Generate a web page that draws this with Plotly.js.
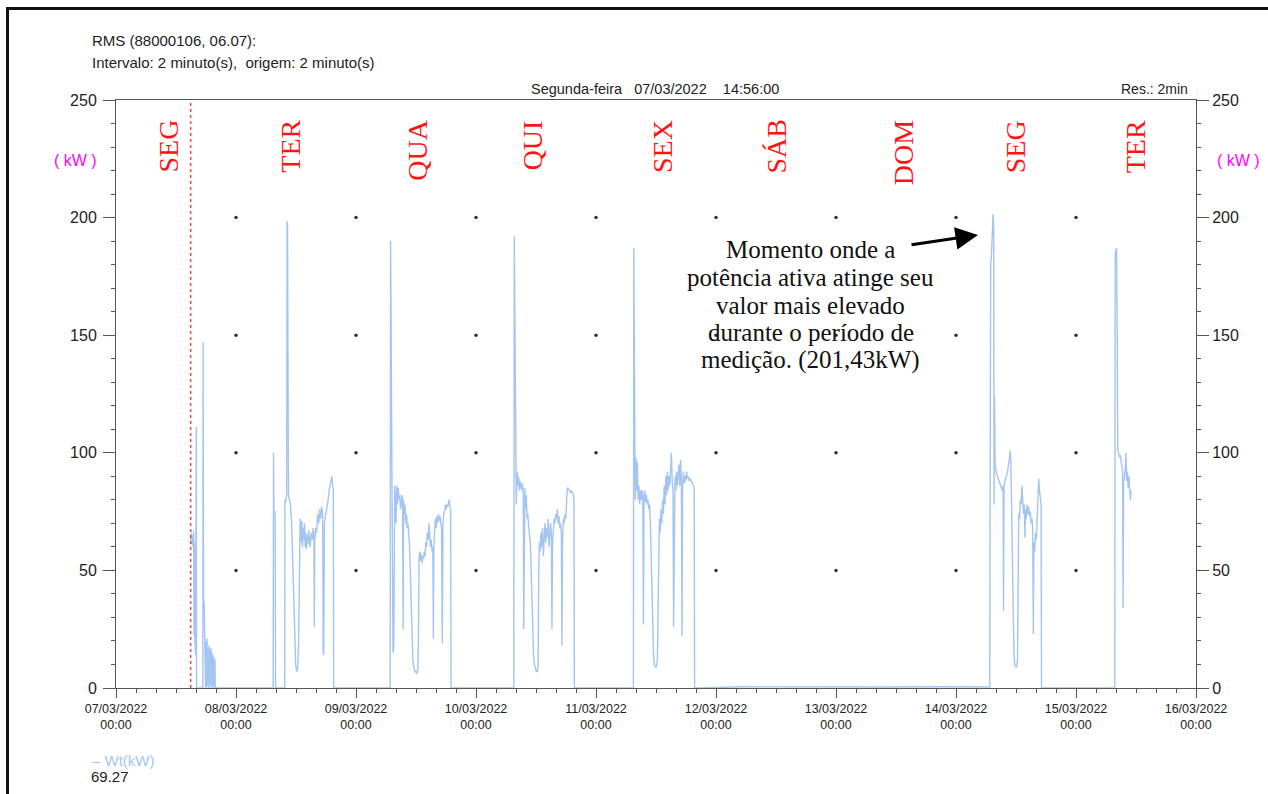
<!DOCTYPE html>
<html>
<head>
<meta charset="utf-8">
<script src="https://cdn.plot.ly/plotly-3.0.1.min.js"></script>
<style>
  html, body { margin: 0; padding: 0; background: #fff; }
  #wrap { position: relative; width: 1268px; height: 794px; overflow: hidden; }
  #chart { width: 1268px; height: 794px; }
  #frame { position: absolute; left: 6px; top: 7px; width: 3000px; height: 3000px;
           border-left: 3px solid #111; border-top: 3px solid #111; pointer-events: none; }
</style>
</head>
<body>
<div id="wrap"><div id="chart"></div><div id="frame"></div></div>
<script>
// ---------------- DATA ----------------
// time = decimal hours since 07/03/2022 00:00, value = active power Wt (kW)
const day1Hours = [14.93,15.05,15.17,15.29,15.41,15.53,15.61,15.69,15.77,15.85,15.93,16.05,16.11,17.37,17.41,17.47,17.51,17.65,17.73,17.81,17.9,18.0,18.1,18.2,18.3,18.4,18.5,18.6,18.7,18.8,18.9,19.0,19.1,19.2,19.3,19.4,19.5,19.6,19.7,19.8,19.85];
const day1Kw    = [63,66,61,65,60,67,22,62,20,18,14,111,0,0,147,2,37,36,22,21,0,20,0,21,1,17,0,18,2,16,0,17,1,15,0,14,1,13,0,12,0];

const day2Hours = [31.42,31.51,31.59,31.83,31.91,33.75,33.79,33.93,34.13,34.23,34.31,34.49,34.73,34.89,35.13,35.33,35.53,35.73,35.93,36.13,36.33,36.53,36.73,36.83,36.93,37.07,37.19,37.31,37.43,37.55,37.69,37.83,37.95,38.09,38.23,38.37,38.51,38.63,38.83,39.03,39.23,39.43,39.59,39.67,39.75,39.93,40.13,40.33,40.53,40.73,40.93,41.13,41.33,41.43,41.55,41.67,41.83,42.03,42.23,42.43,42.63,42.83,43.03,43.17,43.33,43.47,43.53];
const day2Kw    = [0,100,75,75,0,0,80,79,82,198.5,196,82,80,78,70,55,35,18,10,7,8,20,66,72,70,62,71,60,68,63,70,60,66,59,65,61,67,63,60,66,63,68,64,26,62,68,66,74,70,76,72,77,74,15,14,70,72,76,78,80,84,86,88,90,86,84,0];

const day3Hours = [54.84,54.92,55.08,55.24,55.40,55.56,55.74,55.88,56.00,56.14,56.28,56.44,56.60,56.76,56.90,57.04,57.20,57.32,57.42,57.52,57.64,57.80,57.94,58.10,58.24,58.40,58.56,58.72,58.88,59.05,59.21,59.37,59.55,59.75,59.95,60.15,60.35,60.49,60.61,60.75,60.91,61.05,61.21,61.35,61.51,61.65,61.81,61.95,62.11,62.25,62.45,62.61,62.75,62.91,63.05,63.21,63.37,63.47,63.57,63.71,63.85,64.01,64.17,64.33,64.49,64.65,64.81,64.97,65.11,65.27,65.39,65.55,65.71,65.87,66.03,66.19,66.35,66.51,66.67,66.79,66.93,67.01];
const day3Kw    = [0,190,120,40,15,18,86,80,70,86,78,85,80,82,76,78,82,80,25,80,74,78,70,74,68,70,66,60,48,32,20,12,9,7,7,6,8,20,55,58,54,57,53,56,55,58,56,62,60,66,63,70,65,60,63,58,60,21,60,68,72,68,73,70,74,71,73,70,68,19,70,74,75,78,76,78,77,79,80,77,76,0];

const day4Hours = [79.56,79.66,79.78,79.92,80.06,80.22,80.36,80.52,80.66,80.82,80.98,81.14,81.30,81.46,81.54,81.64,81.78,81.92,82.06,82.22,82.38,82.54,82.70,82.87,83.03,83.19,83.35,83.51,83.67,83.87,84.07,84.27,84.43,84.55,84.67,84.83,84.99,85.15,85.31,85.47,85.63,85.79,85.95,86.11,86.27,86.43,86.59,86.75,86.91,87.07,87.19,87.31,87.47,87.63,87.79,87.95,88.11,88.27,88.43,88.59,88.75,88.91,89.07,89.19,89.31,89.47,89.63,89.79,89.95,90.11,90.27,90.47,90.67,90.87,91.07,91.27,91.47,91.59,91.67];
const day4Kw    = [0,192,150,80,78,92,86,90,84,88,86,84,87,82,25,80,85,76,82,72,74,68,66,62,50,35,22,14,10,8,7,7,10,50,62,58,66,60,68,56,64,70,62,68,64,72,60,66,70,66,25,62,68,72,70,74,72,76,70,73,68,70,66,18,62,72,70,74,72,82,85,85,84,83,84,83,82,80,0];

const day5Hours = [103.48,103.56,103.68,103.84,104.00,104.14,104.28,104.44,104.58,104.74,104.88,105.04,105.20,105.36,105.48,105.60,105.76,105.92,106.08,106.24,106.40,106.56,106.72,106.88,107.04,107.20,107.36,107.52,107.68,107.88,108.08,108.28,108.40,108.52,108.68,108.84,109.00,109.16,109.32,109.48,109.64,109.80,109.96,110.12,110.28,110.44,110.60,110.76,110.92,111.08,111.24,111.40,111.52,111.64,111.80,111.96,112.12,112.28,112.44,112.60,112.76,112.92,113.08,113.20,113.32,113.48,113.64,113.80,113.96,114.12,114.28,114.48,114.68,114.88,115.08,115.28,115.48,115.64,115.72];
const day5Kw    = [0,187,140,80,98,84,96,80,86,78,84,80,84,82,27,80,84,79,82,78,80,76,78,70,55,35,20,13,10,9,9,12,30,68,72,66,76,70,80,74,86,78,90,82,92,84,90,86,94,100,88,84,26,82,90,84,92,86,90,95,86,97,88,22,86,92,87,90,88,92,89,90,88,89,88,87,86,85,0];

const weekendHours = [116.5,125,135,145,155,165,174.6];
const weekendKw    = [0,0.5,0.4,0.5,0.4,0.5,0.4];

const day8Hours = [174.74,174.82,174.94,175.10,175.26,175.42,175.54,175.62,175.70,175.82,175.98,176.14,176.30,176.46,176.62,176.78,176.94,177.10,177.26,177.42,177.50,177.60,177.74,177.90,178.06,178.22,178.38,178.54,178.70,178.86,178.98,179.10,179.26,179.42,179.58,179.74,179.94,180.14,180.30,180.42,180.54,180.70,180.86,181.02,181.18,181.34,181.50,181.66,181.78,181.90,182.06,182.22,182.38,182.54,182.70,182.86,183.02,183.18,183.34,183.46,183.58,183.74,183.90,184.06,184.22,184.38,184.54,184.70,184.86,185.02,185.10];
const day8Kw    = [0.4,80,180,184,190,201.43,195,78,124,95,92,91,90,89,88,87,86,85,84,86,33,86,88,89,90,91,93,95,98,101,95,80,55,30,15,10,9,9,12,40,74,72,80,78,86,80,74,78,64,76,72,78,74,77,73,75,70,72,68,23,62,58,66,63,72,80,89,84,80,78,0];

const day9Hours = [199.76,199.84,200.00,200.12,200.24,200.36,200.52,200.68,200.84,201.00,201.16,201.32,201.42,201.52,201.68,201.84,202.00,202.12,202.28,202.44,202.60,202.76,202.88,203.00];
const day9Kw    = [0,185,186,187,150,101,100,98,99,96,95,92,34,88,90,93,100,88,92,85,90,82,80,84];

// axis ticks
const dayTicks = ['2022-03-07','2022-03-08','2022-03-09','2022-03-10','2022-03-11','2022-03-12','2022-03-13','2022-03-14','2022-03-15','2022-03-16'];
const dayTickText = ['07/03/2022<br>00:00','08/03/2022<br>00:00','09/03/2022<br>00:00','10/03/2022<br>00:00','11/03/2022<br>00:00','12/03/2022<br>00:00','13/03/2022<br>00:00','14/03/2022<br>00:00','15/03/2022<br>00:00','16/03/2022<br>00:00'];
const kwTicks = [0,50,100,150,200,250];

// day-of-week labels (hours since start of the record)
const dayNames = ['SEG','TER','QUA','QUI','SEX','SÁB','DOM','SEG','TER'];
const dayNameHours = [10.41,34.83,60.25,83.27,109.29,131.91,157.53,179.94,203.96];

// cursor / peak
const cursorTime = '2022-03-07 14:56:00';
const peakHour = 172.4, peakKw = 192.6;   // arrow tip
const noteLines = ['Momento onde a','potência ativa atinge seu','valor mais elevado','durante o período de','medição. (201,43kW)'];
const headerLine1 = 'RMS (88000106, 06.07):';
const headerLine2 = 'Intervalo: 2 minuto(s),&nbsp;&nbsp;origem: 2 minuto(s)';
const cursorLabel = 'Segunda-feira&nbsp;&nbsp;&nbsp;07/03/2022&nbsp;&nbsp;&nbsp;&nbsp;14:56:00';
const resLabel = 'Res.: 2min';
const seriesName = 'Wt(kW)';
const cursorValue = '69.27';

// ---------------- BUILD ----------------
const startMs = Date.UTC(2022, 2, 7);
function hourToDate(h) {
  return new Date(startMs + Math.round(h * 3600) * 1000).toISOString().slice(0, 19).replace('T', ' ');
}
const allHours = [].concat(day1Hours, day2Hours, day3Hours, day4Hours, day5Hours, weekendHours, day8Hours, day9Hours);
const allKw = [].concat(day1Kw, day2Kw, day3Kw, day4Kw, day5Kw, weekendKw, day8Kw, day9Kw);

const lineColor = '#a4c5ef';
const sans = 'Liberation Sans, Arial, sans-serif';
const serif = 'Liberation Serif, Times New Roman, serif';

const powerTrace = {
  type: 'scatter', mode: 'lines', name: seriesName,
  x: allHours.map(hourToDate), y: allKw,
  line: { color: lineColor, width: 1.4 },
  hoverinfo: 'skip', showlegend: false
};

// dotted grid: interior day boundaries x interior kW ticks
const dotX = [], dotY = [];
dayTicks.slice(1, -1).forEach(d => kwTicks.slice(1, -1).forEach(v => { dotX.push(d); dotY.push(v); }));
const dotTrace = {
  type: 'scatter', mode: 'markers', x: dotX, y: dotY, yaxis: 'y2',
  marker: { color: '#333', size: 3.5 }, hoverinfo: 'skip', showlegend: false
};

function py(px) { return (688 - px) / 588; }
function pxx(px) { return (px - 116) / 1080; }

const annotations = [];
dayNames.forEach((n, i) => annotations.push({
  text: n, x: hourToDate(dayNameHours[i]), xref: 'x', y: py(118), yref: 'paper',
  xanchor: 'center', yanchor: 'top', textangle: -90, showarrow: false,
  font: { family: serif, size: 28, color: '#ff1414' }
}));
noteLines.forEach((t, i) => annotations.push({
  text: t, x: pxx(810.7), xref: 'paper', y: py(250 + i * 27.5), yref: 'paper',
  xanchor: 'center', yanchor: 'middle', showarrow: false,
  font: { family: serif, size: 25, color: '#111' }
}));
annotations.push({
  text: '', x: hourToDate(peakHour), y: peakKw, xref: 'x', yref: 'y',
  showarrow: true, ax: -68, ay: 10, axref: 'pixel', ayref: 'pixel',
  arrowhead: 2, arrowsize: 1.5, arrowwidth: 3, arrowcolor: '#000', standoff: 0
});
annotations.push(
  { text: headerLine1, x: pxx(90), y: py(41), xref: 'paper', yref: 'paper', xanchor: 'left', yanchor: 'middle', showarrow: false, font: { family: sans, size: 15, color: '#222' } },
  { text: headerLine2, x: pxx(90), y: py(62), xref: 'paper', yref: 'paper', xanchor: 'left', yanchor: 'middle', showarrow: false, font: { family: sans, size: 15, color: '#222' } },
  { text: cursorLabel, x: pxx(655), y: py(89), xref: 'paper', yref: 'paper', xanchor: 'center', yanchor: 'middle', showarrow: false, font: { family: sans, size: 14.5, color: '#222' } },
  { text: resLabel, x: pxx(1190), y: py(89), xref: 'paper', yref: 'paper', xanchor: 'right', yanchor: 'middle', showarrow: false, font: { family: sans, size: 14, color: '#222' } },
  { text: '( kW )', x: pxx(75), y: py(160), xref: 'paper', yref: 'paper', xanchor: 'center', yanchor: 'middle', showarrow: false, font: { family: sans, size: 16, color: '#ff00ff' } },
  { text: '( kW )', x: pxx(1238), y: py(160), xref: 'paper', yref: 'paper', xanchor: 'center', yanchor: 'middle', showarrow: false, font: { family: sans, size: 16, color: '#ff00ff' } },
  { text: '– ' + seriesName, x: pxx(90), y: py(760), xref: 'paper', yref: 'paper', xanchor: 'left', yanchor: 'middle', showarrow: false, font: { family: sans, size: 15, color: lineColor } },
  { text: cursorValue, x: pxx(89), y: py(776.5), xref: 'paper', yref: 'paper', xanchor: 'left', yanchor: 'middle', showarrow: false, font: { family: sans, size: 15, color: '#222' } }
);

const yCommon = {
  range: [0, 250], tickvals: kwTicks, ticktext: kwTicks.map(String),
  ticks: 'outside', ticklen: 12, tickwidth: 1, tickcolor: '#555',
  minor: { dtick: 10, ticks: 'outside', ticklen: 4, tickcolor: '#555', showgrid: false },
  showgrid: false, zeroline: false, showline: true, linecolor: '#555', linewidth: 1,
  tickfont: { family: sans, size: 16, color: '#222' }, fixedrange: true
};

const layout = {
  width: 1268, height: 794,
  margin: { l: 116, r: 72, t: 100, b: 106 },
  paper_bgcolor: '#fff', plot_bgcolor: '#fff',
  showlegend: false,
  xaxis: {
    type: 'date', range: [dayTicks[0], dayTicks[dayTicks.length - 1]],
    tickmode: 'array', tickvals: dayTicks, ticktext: dayTickText,
    ticks: 'outside', ticklen: 9, tickwidth: 1, tickcolor: '#555',
    minor: { tickmode: 'linear', tick0: dayTicks[0], dtick: 4 * 3600000, ticks: 'outside', ticklen: 4, tickcolor: '#555', showgrid: false },
    showgrid: false, zeroline: false, showline: true, mirror: true, linecolor: '#555', linewidth: 1,
    tickfont: { family: sans, size: 12.5, color: '#222' }, fixedrange: true
  },
  yaxis: Object.assign({}, yCommon, { side: 'left', ticklabelstandoff: 3 }),
  yaxis2: Object.assign({}, yCommon, { side: 'right', overlaying: 'y' }),
  shapes: [{
    type: 'line', xref: 'x', yref: 'paper', x0: cursorTime, x1: cursorTime, y0: 0, y1: 1,
    line: { color: '#f04848', width: 1.5, dash: 'dot' }
  }],
  annotations: annotations
};

Plotly.newPlot('chart', [powerTrace, dotTrace], layout, { displayModeBar: false, staticPlot: true });
</script>
</body>
</html>
